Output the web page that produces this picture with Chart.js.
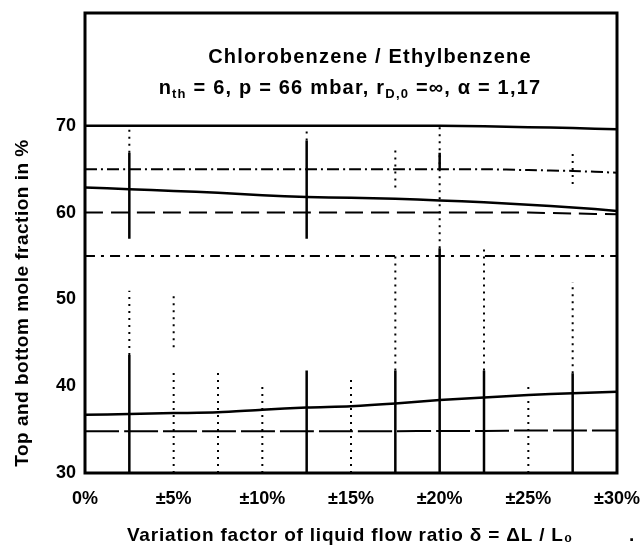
<!DOCTYPE html>
<html><head><meta charset="utf-8">
<script src="https://cdn.jsdelivr.net/npm/chart.js@4.4.1/dist/chart.umd.min.js"></script>
<style>html,body{margin:0;padding:0;background:#fff;overflow:hidden}#wrap{width:641px;height:545px;position:relative}</style>
</head><body><div id="wrap"><canvas id="c" width="641" height="545"></canvas></div>
<script>
// ---- data ----
const xValues   = [0, 2.5, 5, 7.5, 10, 12.5, 15, 17.5, 20, 22.5, 25, 27.5, 30];
const topLine   = [70, 70, 70, 70, 70, 70, 70, 70, 70, 69.95, 69.85, 69.75, 69.6];
const line65    = [65, 65, 65, 65, 65, 65, 65, 65, 65, 65, 64.9, 64.8, 64.6];
const upperCurve= [62.9, 62.7, 62.5, 62.3, 62.0, 61.8, 61.7, 61.6, 61.4, 61.2, 60.9, 60.6, 60.2];
const line60    = [60, 60, 60, 60, 60, 60, 60, 60, 60, 60, 60, 59.9, 59.8];
const line55    = [55, 55, 55, 55, 55, 55, 55, 55, 55, 55, 55, 55, 55];
const lowerCurve= [36.7, 36.8, 36.9, 37.0, 37.3, 37.55, 37.7, 38.0, 38.4, 38.7, 39.0, 39.2, 39.35];
const line35    = [34.8, 34.8, 34.8, 34.8, 34.8, 34.8, 34.8, 34.8, 34.85, 34.85, 34.9, 34.9, 34.9];
// vertical marker segments (x, from y, to y)
const solidSegX  = [2.5, 2.5, 12.5, 12.5, 17.5, 20, 20, 22.5, 27.5];
const solidSegY0 = [57.0, 30, 57.0, 30, 30, 30, 65.0, 30, 30];
const solidSegY1 = [66.9, 43.6, 68.3, 41.8, 41.8, 55.9, 66.9, 41.8, 41.5];
const dotSegX  = [2.5, 2.5, 5, 5, 7.5, 10, 12.5, 15, 17.5, 17.5, 20, 22.5, 25, 27.5, 27.5];
const dotSegY0 = [66.9, 43.6, 30, 44.5, 30, 30, 68.3, 30, 41.8, 62.9, 55.9, 41.8, 30, 41.5, 63.3];
const dotSegY1 = [70, 51, 42, 50.5, 42, 40, 70, 41, 55, 67.7, 70, 56, 40, 52, 66.9];
// ticks
const xTickValues = [0, 5, 10, 15, 20, 25, 30];
const xTickLabels = ['0%', '±5%', '±10%', '±15%', '±20%', '±25%', '±30%'];
const yTickValues = [30, 40, 50, 60, 70];
const yTickLabels = ['30', '40', '50', '60', '70'];

const pts = arr => xValues.map((x, i) => ({x, y: arr[i]}));
const segs = (xs, y0, y1) => {
  const out = [];
  xs.forEach((x, i) => { out.push({x, y: y0[i]}, {x, y: y1[i]}, {x, y: null}); });
  return out;
};
const FONT = "'Liberation Sans', Arial, Helvetica, sans-serif";

function ds(data, dash, w) {
  return {data, borderColor: '#000', borderWidth: w, borderDash: dash, pointRadius: 0,
          tension: 0.3, fill: false, spanGaps: false};
}

const textPlugin = {
  id: 'texts',
  afterDraw(chart) {
    const ctx = chart.ctx, a = chart.chartArea;
    ctx.save();
    ctx.strokeStyle = '#000';
    ctx.lineWidth = 3;
    ctx.strokeRect(a.left, a.top, a.right - a.left, a.bottom - a.top);
    ctx.fillStyle = '#000';
    ctx.textBaseline = 'middle';
    // title line 1
    ctx.textAlign = 'center';
    ctx.letterSpacing = '1.2px';
    ctx.font = `bold 20px ${FONT}`;
    ctx.fillText('Chlorobenzene / Ethylbenzene', 370, 57);
    // title line 2 with subscripts
    const parts = [
      ['n', 20, 0], ['th', 13, 6], [' = 6, p = 66 mbar, r', 20, 0], ['D,0', 13, 6], [' =∞, α = 1,17', 20, 0]
    ];
    let total = 0;
    parts.forEach(p => { ctx.font = `bold ${p[1]}px ${FONT}`; total += ctx.measureText(p[0]).width; });
    let x = 350 - total / 2;
    ctx.textAlign = 'left';
    parts.forEach(p => { ctx.font = `bold ${p[1]}px ${FONT}`; ctx.fillText(p[0], x, 88 + p[2]); x += ctx.measureText(p[0]).width; });
    // x title
    ctx.textAlign = 'center';
    ctx.letterSpacing = '0.8px';
    ctx.font = `bold 19px ${FONT}`;
    ctx.fillText('Variation factor of liquid flow ratio δ = ΔL / L₀', 350, 536);
    ctx.fillText('.', 632, 536);
    // y title
    ctx.translate(23, 303);
    ctx.rotate(-Math.PI / 2);
    ctx.letterSpacing = '0.5px';
    ctx.font = `bold 19px ${FONT}`;
    ctx.fillText('Top and bottom mole fraction in %', 0, 0);
    ctx.restore();
  }
};

new Chart(document.getElementById('c'), {
  type: 'line',
  data: {
    datasets: [
      ds(pts(topLine), [], 2.5),
      ds(pts(line65), [12, 4, 2, 4], 2),
      ds(pts(upperCurve), [], 2.5),
      ds(pts(line60), [18, 8], 2),
      ds(pts(line55), [10, 6, 3, 6], 2),
      ds(pts(lowerCurve), [], 2.5),
      ds(pts(line35), [34, 5], 2),
      Object.assign(ds(segs(solidSegX, solidSegY0, solidSegY1), [], 2.5), {tension: 0}),
      Object.assign(ds(segs(dotSegX, dotSegY0, dotSegY1), [2, 5], 2), {tension: 0})
    ]
  },
  options: {
    responsive: false,
    animation: false,
    devicePixelRatio: 1,
    layout: {padding: {top: 13, right: 24, left: 0, bottom: 0}},
    plugins: {legend: {display: false}, tooltip: {enabled: false}},
    scales: {
      x: {
        type: 'linear', min: 0, max: 30,
        grid: {display: false, drawTicks: false},
        border: {display: false},
        afterBuildTicks: s => { s.ticks = xTickValues.map(v => ({value: v})); },
        afterFit: s => { s.height = 72; s.paddingLeft = 0; s.paddingRight = 0; },
        ticks: {
          padding: 15, color: '#000', maxRotation: 0, autoSkip: false,
          font: {family: FONT, size: 18, weight: 'bold'},
          callback: v => xTickLabels[xTickValues.indexOf(v)] ?? ''
        }
      },
      y: {
        type: 'linear', min: 30, max: 83,
        grid: {display: false, drawTicks: false},
        border: {display: false},
        afterBuildTicks: s => { s.ticks = yTickValues.map(v => ({value: v})); },
        afterFit: s => { s.width = 85; s.paddingTop = 0; s.paddingBottom = 0; },
        ticks: {
          padding: 9, color: '#000', autoSkip: false,
          font: {family: FONT, size: 18, weight: 'bold'},
          callback: v => yTickLabels[yTickValues.indexOf(v)] ?? ''
        }
      }
    }
  },
  plugins: [textPlugin]
});
</script></body></html>
